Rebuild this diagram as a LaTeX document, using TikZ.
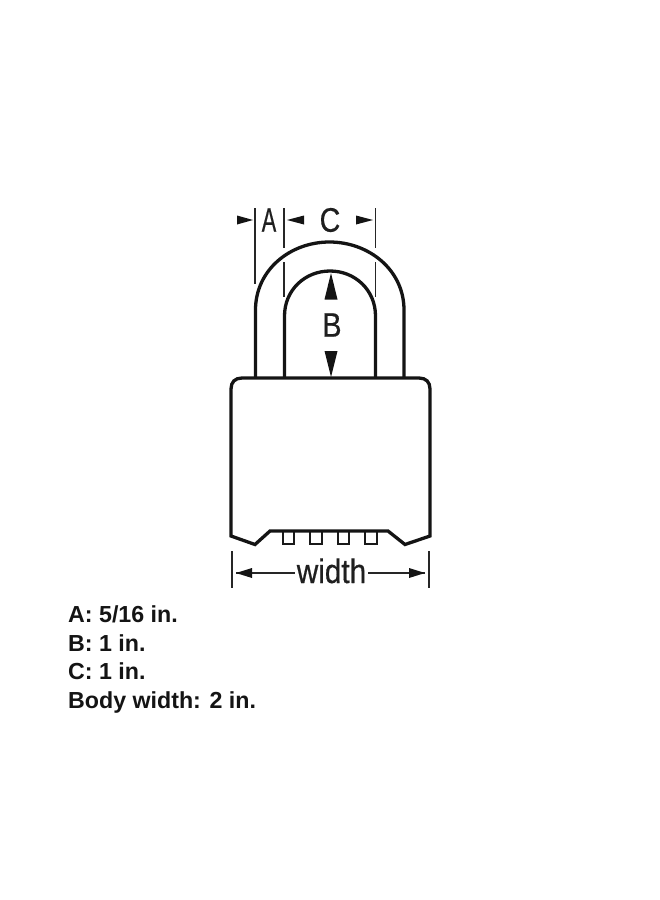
\documentclass[tikz,border=0pt]{standalone}
\usepackage{fontspec}
\setmainfont{Liberation Sans}
\begin{document}
\begin{tikzpicture}[x=1pt,y=-1pt,
  thick line/.style={draw=black!92,line width=3.3pt,line join=miter},
  dimline/.style={draw=black!85,line width=1.7pt},
  tip/.style={fill=black!92,draw=none},
  dimlabel/.style={inner sep=0pt,font=\fontsize{34}{34}\selectfont\addfontfeature{FakeBold=0.6},xscale=0.84,text=black!88},
  spec/.style={anchor=base west,inner sep=0pt,font=\fontsize{23.2}{23.2}\selectfont\bfseries,text=black!92}]
\useasboundingbox[fill=white] (0,0) rectangle (660,900);
% dimension ticks
\draw[dimline] (255,208) -- (255,284);
\draw[dimline] (284,208) -- (284,248);
\draw[dimline] (284,262) -- (284,297);
\draw[dimline] (375.5,208) -- (375.5,248);
\draw[dimline] (375.5,262) -- (375.5,297);
% shackle
\draw[thick line] (255.5,378) -- (255.5,310) .. controls (255.5,270) and (290,242) .. (329.5,242) .. controls (369,242) and (404,270) .. (404,310) -- (404,378);
\draw[thick line] (284.5,378) -- (284.5,316) .. controls (284.5,290) and (305,271) .. (330,271) .. controls (355,271) and (375.5,290) .. (375.5,316) -- (375.5,378);
% combination wheels
\foreach \x in {282.5,310,337.5,365}{
  \draw[draw=black!90,line width=2pt] (\x,531) rectangle ++(11.5,13);
}
% body
\draw[thick line] (242,378) -- (419,378) .. controls (426,378) and (430,382) .. (430,389)
  -- (430,536) -- (405,544.5) -- (388,531) -- (270,531) -- (255,544.5) -- (231,536) -- (231,389)
  .. controls (231,382) and (235,378) .. (242,378) -- cycle;
% A / C arrows
\fill[tip] (237,215.5) -- (253,220) -- (237,224.5) -- cycle;
\fill[tip] (304,215.5) -- (287,220) -- (304,224.5) -- cycle;
\fill[tip] (356,215.5) -- (373,220) -- (356,224.5) -- cycle;
\node[dimlabel,xscale=0.76] (labA) at (269,220) {A};
\node[dimlabel] (labC) at (330,220) {C};
% B arrows
\fill[tip] (331,273) -- (337.5,299.5) -- (324.5,299.5) -- cycle;
\fill[tip] (331,377) -- (337.5,351) -- (324.5,351) -- cycle;
\node[dimlabel] (labB) at (332,325) {B};
% width
\draw[dimline] (232,551) -- (232,588);
\draw[dimline] (429,551) -- (429,588);
\node[dimlabel,anchor=base,xscale=1.04] (labW) at (331.5,583) {width};
\coordinate (wl) at (236,573);
\coordinate (wr) at (425,573);
\draw[dimline] (wl) -- (295,573);
\draw[dimline] (368,573) -- (wr);
\fill[tip] (wl) -- (252,568) -- (252,578) -- cycle;
\fill[tip] (wr) -- (409,568) -- (409,578) -- cycle;
% spec text
\node[spec] (s1) at (68,622) {A: 5/16 in.};
\node[spec] (s2) at (68,651) {B: 1 in.};
\node[spec] (s3) at (68,679) {C: 1 in.};
\node[spec] (s4) at (68,708) {Body width: 2 in.};
\end{tikzpicture}
\end{document}
